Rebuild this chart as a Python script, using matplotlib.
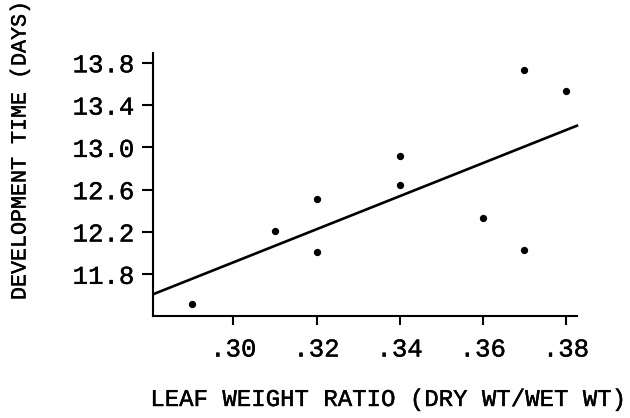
import numpy as np
import matplotlib
matplotlib.use('Agg')
import matplotlib.pyplot as plt
import matplotlib.patheffects as pe

# leaf weight ratio vs development time
ratio = [0.29, 0.31, 0.32, 0.32, 0.34, 0.34, 0.36, 0.37, 0.37, 0.38]
days = [11.52, 12.21, 12.51, 12.01, 12.92, 12.64, 12.33, 13.73, 12.03, 13.53]

# regression line end points
fit_x = [0.2806, 0.3829]
fit_y = [11.61, 13.21]

xticks = [0.30, 0.32, 0.34, 0.36, 0.38]
xtick_labels = ['.30', '.32', '.34', '.36', '.38']
yticks = [11.8, 12.2, 12.6, 13.0, 13.4, 13.8]
ytick_labels = ['11.8', '12.2', '12.6', '13.0', '13.4', '13.8']

plt.rcParams['font.family'] = ['Liberation Mono', 'DejaVu Sans Mono']
heavy = [pe.withStroke(linewidth=0.3, foreground='black')]

W, H = 630, 418
fig = plt.figure(figsize=(6.3, 4.18), dpi=100)
ax = fig.add_axes([152.7 / W, 1 - 316 / H, (577.3 - 152.7) / W, (316 - 53.3) / H])

ax.plot(fit_x, fit_y, color='black', lw=1.9, clip_on=False, solid_capstyle='butt')
ax.scatter(ratio, days, s=18, color='black', zorder=3)

ax.set_xlim(0.2806, 0.3827)
ax.set_ylim(11.406, 13.89)

ax.set_xticks(xticks)
ax.set_xticklabels(xtick_labels, fontsize=18.5)
ax.set_yticks(yticks)
ax.set_yticklabels(ytick_labels, fontsize=18.5)
for lab in ax.get_xticklabels() + ax.get_yticklabels():
    lab.set_path_effects(heavy)

for side in ['top', 'right']:
    ax.spines[side].set_visible(False)
for side in ['left', 'bottom']:
    ax.spines[side].set_linewidth(1.5)

ax.tick_params(axis='y', direction='out', length=8, width=1.5, pad=5)
ax.tick_params(axis='x', direction='out', length=6.5, width=1.5, pad=9)

fig.text(387.5 / W, 1 - 406 / H, 'LEAF WEIGHT RATIO (DRY WT/WET WT)',
         ha='center', va='baseline', fontsize=17.3, path_effects=heavy)
fig.text(20 / W, 1 - 150.5 / H, 'DEVELOPMENT TIME (DAYS)',
         rotation=90, ha='center', va='center', fontsize=15.6, path_effects=heavy)

fig.savefig('out.png', dpi=100)
